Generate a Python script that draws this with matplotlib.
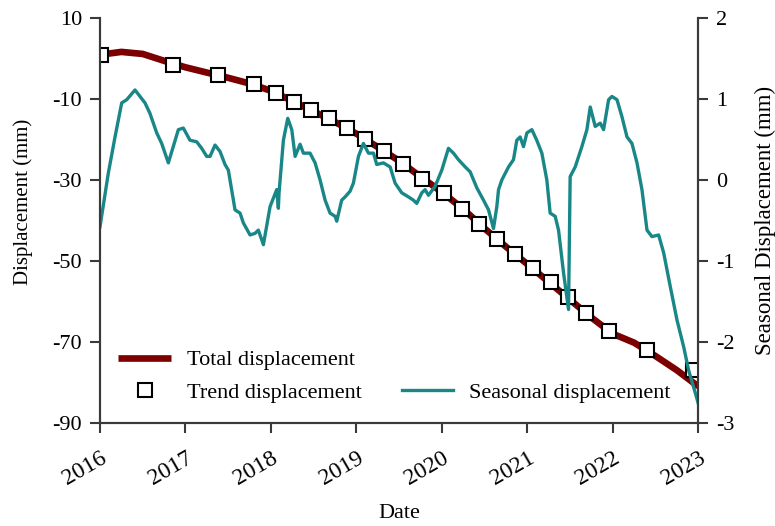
import matplotlib
matplotlib.use("Agg")
import matplotlib.pyplot as plt

plt.rcParams['font.family'] = ['Liberation Serif', 'DejaVu Serif']
plt.rcParams['axes.unicode_minus'] = False

# total displacement (mm) against decimal year
total_t = [2016.00, 2016.25, 2016.50, 2016.75, 2017.00, 2017.25, 2017.50, 2017.75,
           2018.00, 2018.25, 2018.50, 2018.75, 2019.00, 2019.25, 2019.50, 2019.75,
           2020.00, 2020.25, 2020.50, 2020.75, 2021.00, 2021.25, 2021.50, 2021.75,
           2022.00, 2022.25, 2022.50, 2022.75, 2023.00]
total_mm = [0.9, 1.6, 1.1, -0.6, -2.2, -3.5, -4.8, -6.2,
            -8.0, -10.5, -13.1, -15.7, -18.6, -21.9, -25.3, -29.2,
            -33.0, -37.2, -42.0, -46.5, -50.8, -55.2, -59.6, -64.0,
            -68.0, -70.2, -73.5, -77.0, -81.0]

# trend displacement samples (mm)
trend_t = [2016.01, 2016.85, 2017.38, 2017.80, 2018.06, 2018.27, 2018.47, 2018.68,
           2018.89, 2019.10, 2019.32, 2019.55, 2019.77, 2020.02, 2020.23, 2020.44,
           2020.65, 2020.86, 2021.07, 2021.28, 2021.48, 2021.69, 2021.95, 2022.40,
           2022.94]
trend_mm = [0.9, -1.6, -4.1, -6.3, -8.5, -10.7, -12.7, -14.7,
            -17.2, -19.9, -22.8, -26.0, -29.8, -33.2, -37.2, -40.9,
            -44.6, -48.3, -51.7, -55.2, -58.9, -62.8, -67.3, -72.0,
            -76.9]

# seasonal displacement (mm), plotted on the right axis
seas_t = [2016.000, 2016.097, 2016.176, 2016.254, 2016.313, 2016.410, 2016.527, 2016.585,
          2016.664, 2016.722, 2016.800, 2016.917, 2016.975, 2017.053, 2017.132, 2017.190,
          2017.249, 2017.288, 2017.346, 2017.405, 2017.463, 2017.502, 2017.580, 2017.639,
          2017.677, 2017.756, 2017.814, 2017.853, 2017.912, 2017.990, 2018.068, 2018.087,
          2018.095, 2018.146, 2018.197, 2018.244, 2018.283, 2018.341, 2018.380, 2018.458,
          2018.517, 2018.575, 2018.634, 2018.692, 2018.751, 2018.770, 2018.828, 2018.868,
          2018.926, 2018.965, 2019.024, 2019.082, 2019.141, 2019.200, 2019.238, 2019.316,
          2019.395, 2019.453, 2019.531, 2019.609, 2019.667, 2019.706, 2019.765, 2019.804,
          2019.843, 2019.921, 2019.999, 2020.077, 2020.136, 2020.194, 2020.273, 2020.331,
          2020.410, 2020.487, 2020.546, 2020.604, 2020.643, 2020.663, 2020.702, 2020.780,
          2020.838, 2020.877, 2020.916, 2020.955, 2020.995, 2021.053, 2021.110, 2021.170,
          2021.228, 2021.267, 2021.326, 2021.365, 2021.424, 2021.482, 2021.501, 2021.560,
          2021.638, 2021.697, 2021.736, 2021.794, 2021.853, 2021.892, 2021.951, 2021.990,
          2022.049, 2022.107, 2022.166, 2022.224, 2022.283, 2022.341, 2022.400, 2022.458,
          2022.536, 2022.595, 2022.673, 2022.751, 2022.829, 2022.887, 2022.965, 2023.000]
seas_mm = [-0.58, 0.08, 0.53, 0.95, 0.99, 1.11, 0.95, 0.82,
           0.58, 0.45, 0.21, 0.62, 0.64, 0.49, 0.47, 0.39,
           0.29, 0.29, 0.43, 0.35, 0.19, 0.12, -0.37, -0.41,
           -0.53, -0.68, -0.66, -0.62, -0.80, -0.33, -0.12, -0.35,
           -0.16, 0.49, 0.76, 0.62, 0.29, 0.44, 0.33, 0.33,
           0.21, 0.00, -0.25, -0.41, -0.45, -0.51, -0.25, -0.21,
           -0.14, -0.04, 0.29, 0.45, 0.33, 0.33, 0.19, 0.21,
           0.16, -0.04, -0.16, -0.21, -0.25, -0.29, -0.16, -0.12,
           -0.19, -0.08, 0.12, 0.39, 0.33, 0.25, 0.16, 0.10,
           -0.10, -0.25, -0.37, -0.60, -0.33, -0.12, 0.00, 0.16,
           0.25, 0.49, 0.53, 0.41, 0.58, 0.62, 0.49, 0.33,
           0.00, -0.41, -0.45, -0.62, -1.15, -1.60, 0.04, 0.16,
           0.41, 0.62, 0.90, 0.66, 0.70, 0.62, 0.99, 1.03,
           0.99, 0.78, 0.53, 0.45, 0.21, -0.12, -0.62, -0.70,
           -0.68, -0.90, -1.32, -1.73, -2.06, -2.35, -2.63, -2.76]

years = list(range(2016, 2024))

fig = plt.figure(figsize=(7.75, 5.26), dpi=100)
ax = fig.add_axes([0.129, 0.196, 0.772, 0.77])
ax2 = ax.twinx()

red = '#7c0000'
teal = '#198787'
spine_c = '#3a3a3a'

l1, = ax.plot(total_t, total_mm, color=red, lw=4.8, solid_capstyle='butt',
              label='Total displacement', zorder=2)
l2, = ax.plot(trend_t, trend_mm, ls='none', marker='s', ms=10, mfc='white',
              mec='black', mew=1.5, label='Trend displacement', zorder=3)
l3, = ax2.plot(seas_t, seas_mm, color=teal, lw=2.4, label='Seasonal displacement')

ax.set_xlim(2016, 2023)
ax.set_ylim(-90, 10)
ax.set_yticks(range(-90, 11, 20))
ax2.set_ylim(-3, 2)
ax2.set_yticks(range(-3, 3))
ax.set_xticks(years)
ax.set_xticklabels([str(y) for y in years], rotation=30, ha='right',
                   rotation_mode='anchor')

for a in (ax, ax2):
    a.spines['top'].set_visible(False)
    for s in ('left', 'right', 'bottom'):
        a.spines[s].set_color(spine_c)
        a.spines[s].set_linewidth(1.5)
    a.tick_params(axis='both', direction='out', length=7, width=1.5,
                  color=spine_c, labelsize=16, pad=6)
ax.tick_params(axis='x', pad=11, labelsize=17)

ax.set_xlabel('Date', fontsize=16)
ax.xaxis.set_label_coords(0.5, -0.2)
ax.set_ylabel('Displacement (mm)', fontsize=15)
ax.yaxis.set_label_coords(-0.112, 0.546)
ax2.set_ylabel('Seasonal Displacement (mm)', fontsize=16.5)
ax2.yaxis.set_label_coords(1.095, 0.5)

ax.legend(handles=[l1, l2], loc='lower left', bbox_to_anchor=(0.03, 0.049),
          frameon=False, fontsize=16, handlelength=2.4, handletextpad=0.72,
          labelspacing=0.55, borderpad=0, borderaxespad=0)
ax2.legend(handles=[l3], loc='lower left', bbox_to_anchor=(0.505, 0.049),
           frameon=False, fontsize=16, handlelength=2.3, handletextpad=0.7,
           borderpad=0, borderaxespad=0)

fig.savefig('out.png', dpi=100)
